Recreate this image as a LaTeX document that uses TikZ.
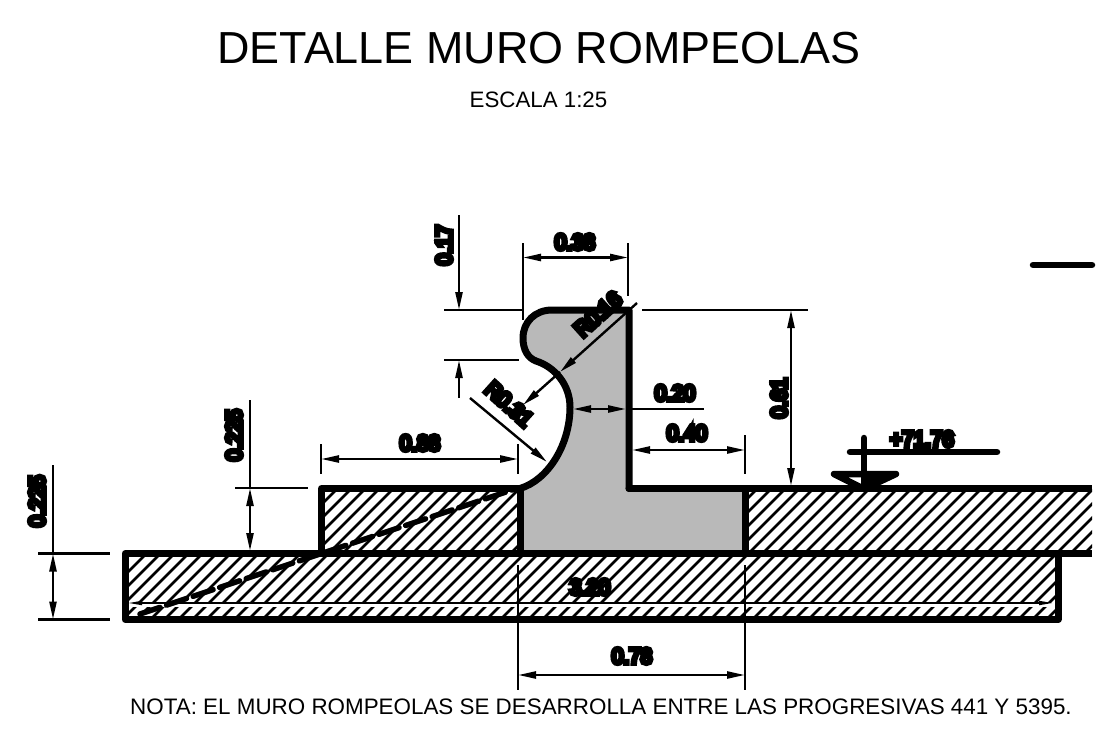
\documentclass[tikz,border=0pt]{standalone}
\usepackage{fontspec}
\setmainfont{Liberation Sans}
\newfontfamily\dimfont[FakeBold=21,FakeStretch=0.94]{Liberation Sans}
\usetikzlibrary{arrows.meta}
\definecolor{wallgray}{HTML}{B9B9B9}
\tikzset{
  outline/.style={line width=7pt,line join=round,line cap=round},
  dimline/.style={line width=2.4pt},
  dimarrow/.style={line width=2.4pt,{Triangle[length=18pt,width=7pt]}-{Triangle[length=18pt,width=7pt]}},
  endarrow/.style={line width=2.4pt,-{Triangle[length=18pt,width=7pt]}},
  dimtext/.style={inner sep=0pt,font=\dimfont\fontsize{22}{22}\selectfont},
  hatchline/.style={line width=2.5pt},
}
\newcommand{\hatcharea}{\foreach \s in {0,14,...,1300}{\draw[hatchline] (\s,700) -- ++(500,-500);}}
\begin{document}
\begin{tikzpicture}[x=1pt,y=-1pt]
\useasboundingbox (0,0) rectangle (1112,742);
% titles
\node[inner sep=0pt,font=\fontsize{44.9}{45}\selectfont] (title) at (539,48) {DETALLE MURO ROMPEOLAS};
\node[inner sep=0pt,font=\fontsize{22.3}{23}\selectfont] (scale) at (538.5,100) {ESCALA 1:25};
\node[inner sep=0pt,font=\fontsize{22.4}{23}\selectfont] (note) at (601,707) {NOTA: EL MURO ROMPEOLAS SE DESARROLLA ENTRE LAS PROGRESIVAS 441 Y 5395.};
% gray wall
\fill[wallgray] (629,310) -- (552,310) .. controls (535,310) and (523,322) .. (523,338) .. controls (523,350) and (528,358) .. (536,361) .. controls (555,367) and (570,385) .. (570,407) .. controls (570,445) and (548,480) .. (520,488.5) -- (520,553) -- (745,553) -- (745,488.5) -- (629,488.5) -- cycle;
% hatching
\begin{scope}
\clip (321,489) rectangle (520,553);
\hatcharea
\end{scope}
\begin{scope}
\clip (745,489) rectangle (1092,553);
\hatcharea
\end{scope}
\begin{scope}
\clip (125,553) rectangle (1058,619);
\hatcharea
\end{scope}
% inner thin dimension line and white gap band
\draw[line width=4pt,white] (128,605) -- (1055,605);
\draw[line width=1.6pt,{Triangle[length=14pt,width=4pt]}-{Triangle[length=14pt,width=4pt]}] (128,603) -- (1053,603);
% outlines
\draw[outline] (125,553.5) rectangle (1058,619.5);
\draw[outline] (321.5,553) -- (321.5,488.5) -- (520,488.5) -- (520,553);
\draw[outline,line cap=butt] (745,553.5) -- (745,488.5) -- (1092,488.5);
\draw[outline,line cap=butt] (745,553.5) -- (1092,553.5);
\draw[outline] (629,488.5) -- (629,310) -- (552,310) .. controls (535,310) and (523,322) .. (523,338) .. controls (523,350) and (528,358) .. (536,361) .. controls (555,367) and (570,385) .. (570,407) .. controls (570,445) and (548,480) .. (520,488.5);
\draw[outline] (629,488.5) -- (745,488.5);
% dashed ground line
\draw[line width=5.5pt,dash pattern=on 21pt off 7pt,line cap=round] (140,614) -- (515,489);
% dim 0.38
\draw[dimline] (523,243) -- (523,320);
\draw[dimline] (628,243) -- (628,296);
\draw[dimarrow] (523,257.5) -- (628,257.5);
\node[dimtext] (d38) at (575,242) {0.38};
% dim 0.17
\draw[dimline] (444,310) -- (523,310);
\draw[dimline] (444,360) -- (519,360);
\draw[endarrow] (459,215) -- (459,310);
\draw[endarrow] (459,398) -- (459,360);
\node[dimtext,rotate=90] (d17) at (444,245) {0.17};
% dim 0.61
\draw[dimline] (642,310) -- (808,310);
\draw[dimarrow] (791,310) -- (791,486);
\node[dimtext,rotate=90] (d61) at (779,398) {0.61};
% R0.16
\draw[endarrow] (637,303) -- (560,372);
\draw[endarrow] (560,372) -- (523,405);
\node[dimtext,rotate=42] (r16) at (598,314) {R0.16};
% R0.31
\draw[endarrow] (470,398) -- (547,462);
\node[dimtext,rotate=-42] (r31) at (509,404) {R0.31};
% dim 0.20
\draw[dimarrow] (573,409) -- (626,409);
\draw[dimline] (626,409) -- (704,409);
\node[dimtext] (d20) at (675,393) {0.20};
% dim 0.40
\draw[dimline] (745,435) -- (745,474);
\draw[dimarrow] (632,450) -- (745,450);
\node[dimtext] (d40) at (687,433) {0.40};
% dim 0.88
\draw[dimline] (321,444) -- (321,474);
\draw[dimline] (518,444) -- (518,474);
\draw[dimarrow] (321,459) -- (518,459);
\node[dimtext] (d88) at (420,443) {0.88};
% dim 0.225 left
\draw[dimline] (38,553.5) -- (110,553.5);
\draw[dimline] (38,619.5) -- (110,619.5);
\draw[dimline] (53,465) -- (53,553);
\draw[dimarrow] (53,553.5) -- (53,619.5);
\node[dimtext,rotate=90] (d225a) at (37,501) {0.225};
% dim 0.225 second
\draw[dimline] (235,488) -- (308,488);
\draw[dimline] (250,400) -- (250,488);
\draw[dimarrow] (250,488) -- (250,551);
\node[dimtext,rotate=90] (d225b) at (234,435) {0.225};
% dim 0.78
\draw[dimline] (518,565) -- (518,690);
\draw[dimline] (745,565) -- (745,690);
\draw[dimarrow] (518,675) -- (745,675);
\node[dimtext] (d78) at (632,656) {0.78};
% 3.20
\node[dimtext] (d320) at (590,587) {3.20};
% level mark
\draw[line width=6.5pt,line join=round,line cap=round,fill=white] (834,474) -- (896,474) -- (864,489) -- cycle;
\fill (864,472) -- (896,472) -- (874,489) -- (864,489) -- cycle;
\draw[line width=6.5pt,line cap=round] (864,438) -- (864,489);
\draw[line width=6.5pt,line cap=round] (850,452) -- (997,452);
\node[dimtext] (lvl) at (922,439) {+71.76};
% top right dash
\draw[line width=6.5pt,line cap=round] (1033,265) -- (1092,265);
\end{tikzpicture}
\end{document}
